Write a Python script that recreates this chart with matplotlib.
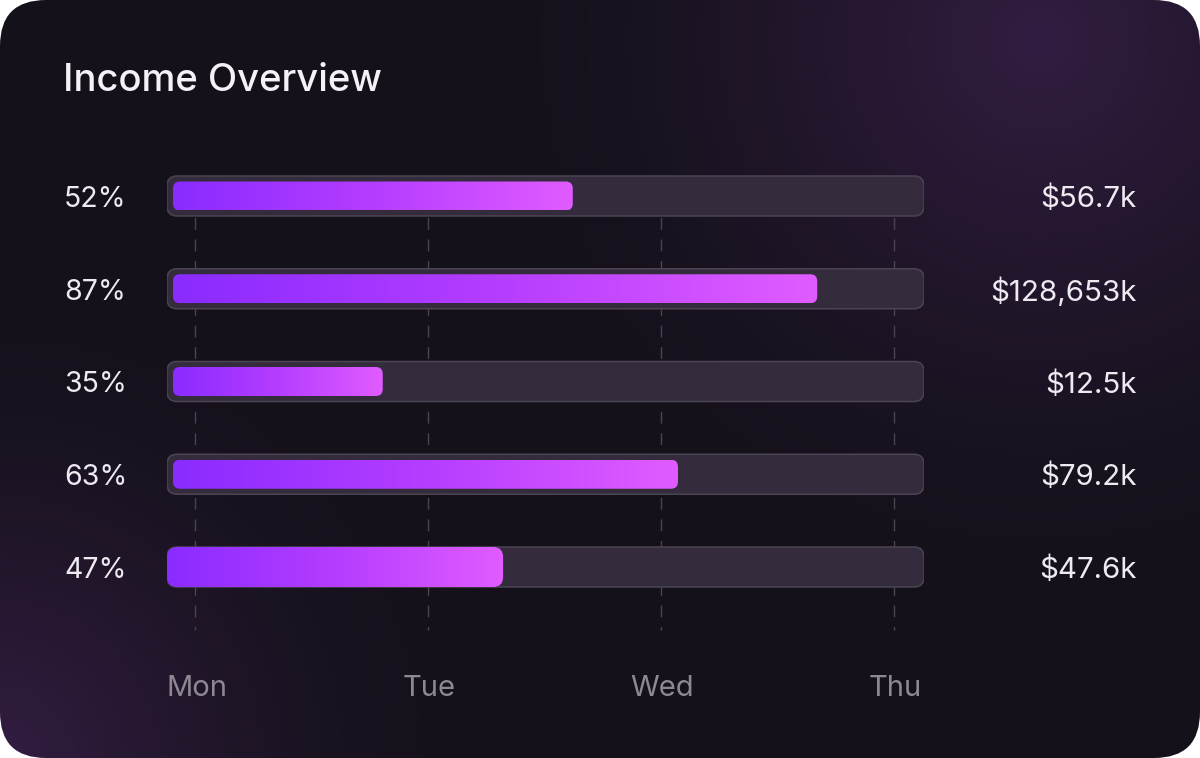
import numpy as np
import matplotlib
matplotlib.use("Agg")
import matplotlib.pyplot as plt
from matplotlib.patches import FancyBboxPatch
from matplotlib.colors import LinearSegmentedColormap
import matplotlib.transforms as mtransforms

# ---------------- data ----------------
percent_labels = ["52%", "87%", "35%", "63%", "47%"]
bar_values = [53.6, 85.9, 28.5, 67.5, 44.4]          # fill length on a 0-100 track scale
value_labels = ["$56.7k", "$128,653k", "$12.5k", "$79.2k", "$47.6k"]
days = ["Mon", "Tue", "Wed", "Thu"]
highlight_index = 4                                   # drawn as full-height bar

# ---------------- style ----------------
plt.rcParams['font.family'] = ['Inter', 'DejaVu Sans']
W, H = 1200, 758
BASE = np.array([21, 17, 26]) / 255
GLOW = np.array([50, 29, 66]) / 255
TRACK_FACE = "#342c3c"
TRACK_EDGE = "#4b4453"
GRID_COLOR = "#4a4450"
TEXT_COLOR = "#eeeaf2"
DAY_COLOR = "#8d8894"
bar_cmap = LinearSegmentedColormap.from_list("bar", ["#8a2bff", "#b53dff", "#e05cff"])

fig = plt.figure(figsize=(12, 7.58), dpi=100)
fig.patch.set_facecolor("white")

# ---------------- card background ----------------
bg = fig.add_axes([0, 0, 1, 1], zorder=-5)
bg.set_xlim(0, W)
bg.set_ylim(H, 0)
bg.axis("off")
yy, xx = np.mgrid[0:H, 0:W]
w1 = np.clip(1 - np.hypot(xx - 1040, yy - 40) / 560, 0, 1) ** 1.5
w2 = np.clip(1 - np.hypot(xx - 0, yy - H) / 480, 0, 1) ** 1.6
wgt = np.clip(w1 + w2, 0, 1)[..., None]
img = BASE * (1 - wgt) + GLOW * wgt
card = FancyBboxPatch((0, 0), W, H, boxstyle="round,pad=0,rounding_size=46",
                      facecolor="none", edgecolor="none")
bg.add_patch(card)
im = bg.imshow(img, extent=(0, W, H, 0), interpolation="bilinear", aspect="auto")
im.set_clip_path(card)

# ---------------- main axes ----------------
left_px, right_px = 167, 924
top_px, bot_px = 100, 720
row0_px, row_gap_px = 196, 92.75
ax = fig.add_axes([left_px / W, 1 - bot_px / H, (right_px - left_px) / W, (bot_px - top_px) / H])
ax.set_zorder(2)
xlim = (0, 100)
ylim = ((bot_px - row0_px) / row_gap_px, (top_px - row0_px) / row_gap_px)
ax.set_xlim(*xlim)
ax.set_ylim(*ylim)
ax.axis("off")

sx = (right_px - left_px) / (xlim[1] - xlim[0])   # px per x unit
sy = row_gap_px                                    # px per y unit


def rbox(x0, y0, w, h, r_px, **kw):
    return FancyBboxPatch((x0, y0), w, h,
                          boxstyle=f"round,pad=0,rounding_size={r_px / sx}",
                          mutation_aspect=sx / sy, **kw)


track_h = 40 / sy
inset_x, inset_y = 6 / sx, 5.5 / sy
grad = np.linspace(0, 1, 256).reshape(1, -1)

for i, v in enumerate(bar_values):
    track = rbox(0, i - track_h / 2, 100, track_h, 10, facecolor=TRACK_FACE,
                 edgecolor=TRACK_EDGE, linewidth=1.1, zorder=2)
    ax.add_patch(track)
    if i == highlight_index:
        x0, y0, h, r = 0, i - track_h / 2, track_h, 10
    else:
        x0, y0, h, r = inset_x, i - track_h / 2 + inset_y, track_h - 2 * inset_y, 7
    bar = rbox(x0, y0, v - x0, h, r, facecolor="none", edgecolor="none", zorder=3)
    ax.add_patch(bar)
    gim = ax.imshow(grad, cmap=bar_cmap, extent=(x0, v, y0 + h, y0),
                    aspect="auto", interpolation="bicubic", zorder=3)
    gim.set_clip_path(bar)

ax.set_xlim(*xlim)
ax.set_ylim(*ylim)

# ---------------- day grid (behind tracks) ----------------
ax2 = ax.twiny()
ax2.set_zorder(1)
day_pos = np.arange(len(days))
mon_px, day_gap_px = 195, 233
ax2.set_xlim((left_px - mon_px) / day_gap_px, (right_px - mon_px) / day_gap_px)
ax2.axis("off")
grid_bottom = (630 - row0_px) / row_gap_px
ax2.vlines(day_pos, 0, grid_bottom, colors=GRID_COLOR, linewidth=1.0,
           linestyles=(0, (8.5, 7)))
day_label_y = (688 - row0_px) / row_gap_px
for p, d in zip(day_pos, days):
    ax2.text(p + 1.5 / day_gap_px, day_label_y, d, ha="center", va="center",
             fontsize=21, color=DAY_COLOR)

# ---------------- labels ----------------
lt = mtransforms.blended_transform_factory(fig.transFigure, ax.transData)
dy = 3.5 / sy
for i, (pl, vl) in enumerate(zip(percent_labels, value_labels)):
    ax.text(64 / W, i + dy, pl, transform=lt, ha="left", va="center", fontsize=20.5, color=TEXT_COLOR)
    ax.text(1137 / W, i + dy, vl, transform=lt, ha="right", va="center", fontsize=21.3, color=TEXT_COLOR)

fig.text(63 / W, 1 - 81 / H, "Income Overview", ha="left", va="center",
         fontsize=27.5, fontweight="medium", color="#f4f2f6")

fig.savefig("out.png", dpi=100, facecolor=fig.get_facecolor())
